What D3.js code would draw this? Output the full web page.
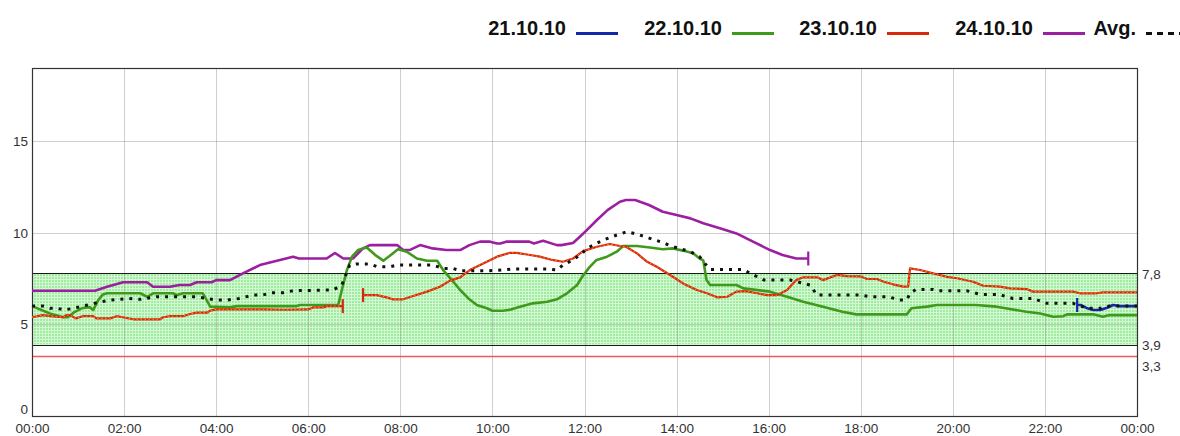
<!DOCTYPE html>
<html>
<head>
<meta charset="utf-8">
<script src="https://cdn.jsdelivr.net/npm/d3@7"></script>
<style>
  html, body { margin: 0; padding: 0; background: #fff; }
  svg { display: block; font-family: Arial, "Liberation Sans", sans-serif; }
</style>
</head>
<body>
<svg id="chart" width="1180" height="436"></svg>
<script>
// ---- data -------------------------------------------------------------
// time of day in hours, blood glucose in mmol/l
const hourTicks = [0, 2, 4, 6, 8, 10, 12, 14, 16, 18, 20, 22, 24];
const hourLabels = ["00:00", "02:00", "04:00", "06:00", "08:00", "10:00", "12:00",
                    "14:00", "16:00", "18:00", "20:00", "22:00", "00:00"];
const valueTicks = [0, 5, 10, 15];
const targetHigh = 7.8;
const targetLow = 3.9;
const hypoLimit = 3.3;
const limitLabels = ["7,8", "3,9", "3,3"];
const legendLabels = ["21.10.10", "22.10.10", "23.10.10", "24.10.10", "Avg."];

const day21 = [[22.7, 6.06], [22.78, 6.06], [22.92, 5.88], [23.05, 5.79], [23.2, 5.79],
  [23.35, 5.91], [23.48, 6.06], [23.63, 6.0], [24, 6.0]];

const day22 = [[0, 6.0], [0.39, 5.6], [0.68, 5.39], [0.78, 5.39], [0.9, 5.64], [1.08, 5.88],
  [1.2, 5.93], [1.26, 5.93], [1.33, 5.79], [1.44, 6.33], [1.54, 6.64], [1.63, 6.7], [2.35, 6.7],
  [2.5, 6.51], [2.63, 6.7], [3.06, 6.7], [3.15, 6.6], [3.28, 6.7], [3.71, 6.7], [3.8, 6.3],
  [3.87, 5.97], [4.3, 5.93], [4.45, 6.0], [5.75, 6.0], [5.82, 6.06], [6.65, 6.06], [6.73, 6.88],
  [6.84, 7.97], [6.95, 8.7], [7.08, 9.06], [7.27, 9.2], [7.45, 8.8], [7.63, 8.48], [7.8, 8.8],
  [7.95, 9.1], [8.14, 8.97], [8.36, 8.6], [8.58, 8.48], [8.8, 8.48], [8.93, 7.97], [9.12, 7.42],
  [9.3, 6.88], [9.48, 6.42], [9.66, 6.06], [9.88, 5.88], [10.0, 5.75], [10.23, 5.75], [10.38, 5.8],
  [10.6, 5.97], [10.88, 6.15], [11.19, 6.24], [11.4, 6.37], [11.62, 6.7], [11.84, 7.15], [11.95, 7.6],
  [12.1, 8.1], [12.25, 8.5], [12.49, 8.7], [12.7, 8.97], [12.84, 9.28], [13.14, 9.28], [13.42, 9.2],
  [13.7, 9.1], [13.92, 9.15], [14.14, 9.03], [14.36, 8.88], [14.5, 8.6], [14.58, 8.5], [14.65, 7.42],
  [14.73, 7.15], [15.3, 7.15], [15.45, 6.97], [16.03, 6.79], [16.4, 6.51], [16.75, 6.24], [17.18, 5.97],
  [17.6, 5.69], [17.9, 5.55], [19.0, 5.55], [19.1, 5.88], [19.44, 5.97], [19.65, 6.06], [20.5, 6.06],
  [20.95, 5.97], [21.24, 5.84], [21.6, 5.69], [21.9, 5.6], [22.18, 5.42], [22.4, 5.45], [22.48, 5.55],
  [23.05, 5.55], [23.26, 5.42], [23.4, 5.51], [24, 5.51]];

// the 23.10.10 sensor trace has a gap around 07:00
const day23early = [[0, 5.39], [0.24, 5.51], [0.4, 5.45], [0.67, 5.39], [0.76, 5.51], [0.83, 5.51],
  [0.95, 5.33], [1.1, 5.45], [1.33, 5.45], [1.4, 5.33], [1.7, 5.33], [1.84, 5.45], [1.97, 5.39],
  [2.2, 5.28], [2.78, 5.28], [2.85, 5.39], [3.0, 5.45], [3.28, 5.45], [3.43, 5.57], [3.58, 5.64],
  [3.8, 5.64], [3.87, 5.75], [4.0, 5.82], [5.0, 5.82], [5.5, 5.8], [6.0, 5.82], [6.1, 5.93],
  [6.33, 5.93], [6.4, 6.0], [6.75, 6.0]];

const day23late = [[7.19, 6.6], [7.49, 6.6], [7.7, 6.48], [7.84, 6.37], [8.06, 6.37], [8.28, 6.55],
  [8.58, 6.79], [8.86, 7.06], [9.08, 7.39], [9.3, 7.57], [9.51, 7.97], [9.8, 8.33], [10.1, 8.7],
  [10.38, 8.91], [10.53, 8.91], [10.82, 8.79], [11.03, 8.7], [11.3, 8.52], [11.53, 8.42], [11.75, 8.6],
  [11.97, 9.0], [12.27, 9.24], [12.55, 9.39], [12.77, 9.28], [12.9, 9.24], [13.14, 8.88], [13.36, 8.42],
  [13.57, 8.15], [13.86, 7.7], [14.14, 7.24], [14.44, 6.88], [14.66, 6.7], [14.88, 6.48], [15.1, 6.51],
  [15.3, 6.79], [15.5, 6.82], [15.75, 6.7], [15.96, 6.6], [16.18, 6.6], [16.4, 6.88], [16.6, 7.42],
  [16.75, 7.57], [17.05, 7.57], [17.18, 7.42], [17.48, 7.7], [17.7, 7.64], [18.0, 7.62], [18.14, 7.48],
  [18.35, 7.48], [18.5, 7.33], [18.7, 7.19], [18.92, 7.06], [19.03, 7.06], [19.07, 8.06], [19.29, 7.97],
  [19.57, 7.79], [19.87, 7.6], [20.09, 7.52], [20.44, 7.33], [20.66, 7.11], [21.02, 7.06], [21.24, 6.97],
  [21.6, 6.93], [21.74, 6.79], [22.61, 6.79], [22.76, 6.7], [23.13, 6.7], [23.26, 6.75], [24, 6.75]];

const day24 = [[0, 6.84], [1.37, 6.84], [1.63, 7.06], [1.98, 7.3], [2.5, 7.3], [2.63, 7.06], [3.0, 7.06],
  [3.2, 7.15], [3.43, 7.15], [3.58, 7.3], [3.9, 7.3], [4.0, 7.42], [4.3, 7.42], [4.58, 7.79], [4.95, 8.24],
  [5.32, 8.48], [5.67, 8.7], [5.8, 8.6], [6.4, 8.6], [6.58, 8.9], [6.76, 8.6], [6.97, 8.6], [7.19, 9.15],
  [7.34, 9.33], [7.93, 9.33], [8.06, 9.06], [8.2, 9.06], [8.43, 9.33], [8.7, 9.15], [9.0, 9.06], [9.3, 9.06],
  [9.5, 9.33], [9.73, 9.52], [9.95, 9.52], [10.1, 9.42], [10.17, 9.42], [10.3, 9.52], [10.8, 9.52],
  [10.9, 9.42], [11.1, 9.57], [11.4, 9.33], [11.5, 9.33], [11.75, 9.45], [11.9, 9.79], [12.05, 10.15],
  [12.27, 10.7], [12.5, 11.24], [12.77, 11.7], [12.9, 11.79], [13.1, 11.79], [13.4, 11.52], [13.7, 11.15],
  [14.0, 10.97], [14.3, 10.79], [14.58, 10.52], [14.94, 10.25], [15.3, 9.97], [15.66, 9.52], [16.03, 9.06],
  [16.3, 8.79], [16.6, 8.6], [16.86, 8.6]];

const average = [[0, 6.0], [0.24, 6.0], [0.39, 5.88], [0.55, 5.88], [0.7, 5.79], [0.9, 5.88], [1.1, 6.0],
  [1.35, 6.15], [1.7, 6.33], [2.1, 6.42], [2.35, 6.37], [2.7, 6.51], [3.58, 6.51], [3.8, 6.42], [4.0, 6.33],
  [4.23, 6.33], [4.5, 6.42], [4.8, 6.6], [5.0, 6.6], [5.2, 6.73], [5.45, 6.73], [5.67, 6.84], [6.54, 6.88],
  [6.73, 7.15], [6.9, 8.24], [7.05, 8.3], [7.34, 8.3], [7.5, 8.15], [7.78, 8.15], [7.93, 8.24], [8.7, 8.24],
  [8.93, 8.06], [9.14, 8.06], [9.3, 7.93], [9.88, 7.93], [10.2, 7.97], [10.45, 8.02], [11.2, 8.02],
  [11.4, 7.97], [11.53, 8.24], [11.75, 8.52], [11.95, 8.88], [12.05, 9.15], [12.4, 9.6], [12.7, 9.88],
  [12.92, 10.06], [13.14, 9.93], [13.42, 9.7], [13.64, 9.52], [13.93, 9.24], [14.3, 8.97], [14.5, 8.7],
  [14.58, 8.42], [14.73, 8.0], [15.45, 8.0], [15.6, 7.79], [15.9, 7.42], [16.47, 7.42], [16.9, 7.15],
  [17.05, 6.6], [18.0, 6.6], [18.2, 6.51], [18.6, 6.51], [18.85, 6.33], [19.0, 6.33], [19.07, 6.7],
  [19.2, 6.91], [19.57, 6.91], [19.7, 6.84], [20.3, 6.84], [20.6, 6.64], [21.0, 6.64], [21.3, 6.42],
  [21.74, 6.42], [22.04, 6.15], [22.61, 6.15], [22.92, 5.88], [23.2, 5.88], [23.4, 6.0], [24, 6.0]];

// ---- colours ------------------------------------------------------------
const colors = {
  d21: "#1428a8",
  d22: "#3f9a1c",
  d23: "#d8280e",
  d24: "#9c1fa2",
  avg: "#111111"
};

// ---- layout -------------------------------------------------------------
const svg = d3.select("#chart");
const plot = { left: 32, right: 1137, top: 68, bottom: 416 };

const x = d3.scaleLinear().domain([0, 24]).range([plot.left, plot.right]);
const y = d3.scaleLinear().domain([0, 19]).range([plot.bottom, plot.top]);

// hatched green texture for the target range
const defs = svg.append("defs");
const pat = defs.append("pattern")
  .attr("id", "targetFill")
  .attr("patternUnits", "userSpaceOnUse")
  .attr("width", 3).attr("height", 3);
pat.append("rect").attr("width", 3).attr("height", 3).attr("fill", "#9eec9e");
pat.append("rect").attr("width", 3).attr("height", 1).attr("fill", "#d4f8d4");
pat.append("rect").attr("width", 1).attr("height", 3).attr("fill", "#d4f8d4");

// target band
svg.append("rect")
  .attr("x", plot.left).attr("width", plot.right - plot.left)
  .attr("y", y(targetHigh)).attr("height", y(targetLow) - y(targetHigh))
  .attr("fill", "url(#targetFill)");

// grid
const grid = svg.append("g").attr("stroke", "rgba(140,140,140,0.42)").attr("stroke-width", 1);
grid.selectAll("line.v").data(hourTicks.slice(1, -1)).join("line")
  .attr("x1", d => Math.round(x(d)) + 0.5).attr("x2", d => Math.round(x(d)) + 0.5)
  .attr("y1", plot.top).attr("y2", plot.bottom);
grid.selectAll("line.h").data(valueTicks.slice(1)).join("line")
  .attr("x1", plot.left).attr("x2", plot.right)
  .attr("y1", d => Math.round(y(d)) + 0.5).attr("y2", d => Math.round(y(d)) + 0.5);

// limit lines
[targetHigh, targetLow].forEach(v => {
  svg.append("line")
    .attr("x1", plot.left).attr("x2", plot.right)
    .attr("y1", Math.round(y(v)) + 0.5).attr("y2", Math.round(y(v)) + 0.5)
    .attr("stroke", "#1a1a1a").attr("stroke-width", 1.2);
});
svg.append("line")
  .attr("x1", plot.left).attr("x2", plot.right)
  .attr("y1", Math.round(y(hypoLimit)) + 0.5).attr("y2", Math.round(y(hypoLimit)) + 0.5)
  .attr("stroke", "#ee5a5a").attr("stroke-width", 1.4);

// frame
svg.append("rect")
  .attr("x", plot.left + 0.5).attr("y", plot.top + 0.5)
  .attr("width", plot.right - plot.left).attr("height", plot.bottom - plot.top)
  .attr("fill", "none").attr("stroke", "#333").attr("stroke-width", 1.2);

// ---- axes ---------------------------------------------------------------
const tickFont = "Arial, 'Liberation Sans', sans-serif";
const yAxis = svg.append("g")
  .attr("transform", `translate(${plot.left},0)`)
  .call(d3.axisLeft(y).tickValues(valueTicks).tickSize(0).tickPadding(4).tickFormat(d3.format("d")));
yAxis.select(".domain").remove();
yAxis.selectAll("text")
  .attr("font-size", 13.5).attr("fill", "#333").attr("font-family", tickFont)
  .attr("dy", d => d === 0 ? "-0.2em" : "0.32em");

const xAxis = svg.append("g")
  .attr("transform", `translate(0,${plot.bottom})`)
  .call(d3.axisBottom(x).tickValues(hourTicks).tickSize(0).tickPadding(7)
    .tickFormat((d, i) => hourLabels[i]));
xAxis.select(".domain").remove();
xAxis.selectAll("text")
  .attr("font-size", 13.5).attr("fill", "#333").attr("font-family", tickFont);

// right-hand limit labels
const limitG = svg.append("g").attr("font-size", 13.5).attr("fill", "#333");
[[targetHigh, 0], [targetLow, 1], [targetLow, 2]].forEach(([v, i]) => {
  limitG.append("text")
    .attr("x", plot.right + 5)
    .attr("y", y(v) + (i === 2 ? 22 : 1))
    .attr("dy", "0.35em")
    .text(limitLabels[i]);
});

// ---- traces -------------------------------------------------------------
const line = d3.line().x(d => x(d[0])).y(d => y(d[1]));
const traces = svg.append("g").attr("fill", "none").attr("stroke-linejoin", "round");

function trace(data, color, width) {
  return traces.append("path").datum(data)
    .attr("d", line).attr("stroke", color).attr("stroke-width", width);
}

// short vertical marker where a recording starts or stops
function endMark(point, color) {
  traces.append("line")
    .attr("x1", x(point[0])).attr("x2", x(point[0]))
    .attr("y1", y(point[1]) - 7).attr("y2", y(point[1]) + 7)
    .attr("stroke", color).attr("stroke-width", 2.2);
}

trace(day24, colors.d24, 2.6);
endMark(day24[day24.length - 1], colors.d24);

trace(day22, colors.d22, 2.6);

trace(day23early, colors.d23, 2.2);
trace(day23early, "#ff9030", 1).attr("stroke-dasharray", "1.5,2.5");
endMark(day23early[day23early.length - 1], colors.d23);
trace(day23late, colors.d23, 2.2);
trace(day23late, "#ff9030", 1).attr("stroke-dasharray", "1.5,2.5");
endMark(day23late[0], colors.d23);

trace(day21, colors.d21, 2.6);
endMark(day21[0], colors.d21);

trace(average, colors.avg, 3).attr("stroke-dasharray", "3,6").attr("stroke-linejoin", "miter");

// ---- legend -------------------------------------------------------------
const legendEnds = [566, 722, 877, 1033, 1136];
const legendColors = [colors.d21, colors.d22, colors.d23, colors.d24, colors.avg];
const legend = svg.append("g").attr("font-size", 20).attr("font-weight", "bold").attr("fill", "#111");
legendLabels.forEach((lab, i) => {
  const ex = legendEnds[i];
  legend.append("text")
    .attr("x", ex).attr("y", 35)
    .attr("text-anchor", "end")
    .text(lab);
  const ln = legend.append("line")
    .attr("x1", ex + 10).attr("x2", i === 4 ? 1180 : ex + 52)
    .attr("y1", 33.5).attr("y2", 33.5)
    .attr("stroke", legendColors[i]).attr("stroke-width", 3);
  if (i === 4) ln.attr("stroke-dasharray", "6,5");
});
</script>
</body>
</html>
